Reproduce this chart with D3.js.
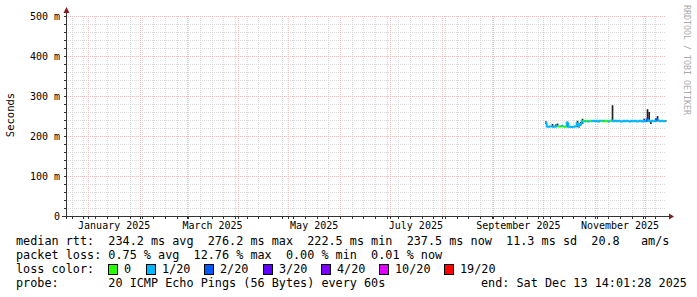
<!DOCTYPE html>
<html>
<head>
<meta charset="utf-8">
<script src="https://cdn.jsdelivr.net/npm/d3@7"></script>
<style>
  html, body { margin: 0; padding: 0; background: #ffffff; }
  text { font-family: "DejaVu Sans Mono", monospace; white-space: pre; }
</style>
</head>
<body>
<svg id="chart"></svg>
<script>
const width = 697;
const height = 297;

const layout = {left: 66, right: 666, top: 16, bottom: 216};

// Graph window (360 days ending at the probe's end time)
const endTime = new Date(Date.UTC(2025, 11, 13, 14, 1, 28));
const startTime = new Date(Date.UTC(2024, 11, 18, 14, 1, 28));

// Daily samples, median rtt in ms
const days = [
    "2025-10-02", "2025-10-03", "2025-10-04", "2025-10-05", "2025-10-06", "2025-10-07", "2025-10-08",
    "2025-10-09", "2025-10-10", "2025-10-11", "2025-10-12", "2025-10-13", "2025-10-14", "2025-10-15",
    "2025-10-16", "2025-10-17", "2025-10-18", "2025-10-19", "2025-10-20", "2025-10-21", "2025-10-22",
    "2025-10-23", "2025-10-24", "2025-10-25", "2025-10-26", "2025-10-27", "2025-10-28", "2025-10-29",
    "2025-10-30", "2025-10-31", "2025-11-01", "2025-11-02", "2025-11-03", "2025-11-04", "2025-11-05",
    "2025-11-06", "2025-11-07", "2025-11-08", "2025-11-09", "2025-11-10", "2025-11-11", "2025-11-12",
    "2025-11-13", "2025-11-14", "2025-11-15", "2025-11-16", "2025-11-17", "2025-11-18", "2025-11-19",
    "2025-11-20", "2025-11-21", "2025-11-22", "2025-11-23", "2025-11-24", "2025-11-25", "2025-11-26",
    "2025-11-27", "2025-11-28", "2025-11-29", "2025-11-30", "2025-12-01", "2025-12-02", "2025-12-03",
    "2025-12-04", "2025-12-05", "2025-12-06", "2025-12-07", "2025-12-08", "2025-12-09", "2025-12-10",
    "2025-12-11", "2025-12-12", "2025-12-13"];

const medianRtt = [
    234, 224, 223, 224, 224, 223, 224,
    225, 224, 224, 225, 224, 223, 233,
    223, 223, 222.5, 223, 224, 232, 225,
    230, 237, 238, 237, 238, 236, 238,
    237, 238, 237, 238, 236, 238, 237,
    238, 237, 238, 236, 238, 239, 237,
    238, 237, 238, 237, 236, 238, 237,
    238, 237, 236, 238, 237, 238, 236,
    237, 238, 236, 238, 237, 241, 239,
    236, 238, 237, 239, 241, 238, 237,
    238, 237, 237.5];

// index into lossColors
const lossLevel = [
    1, 1, 1, 1, 1, 1, 1,
    1, 0, 0, 1, 0, 0, 1,
    1, 1, 1, 1, 1, 1, 1,
    1, 1, 0, 1, 0, 1, 0,
    1, 1, 1, 1, 1, 1, 0,
    1, 0, 0, 1, 0, 1, 1,
    1, 1, 1, 1, 1, 1, 1,
    1, 1, 1, 1, 1, 1, 1,
    1, 1, 1, 1, 1, 2, 1,
    1, 1, 1, 1, 2, 1, 1,
    1, 1, 1];

// smoke (ping spread) low / high in ms
const smokeLo = [
    230, 223, 222, 223, 222, 222, 222,
    223, 223, 223, 224, 223, 222, 222,
    222, 222, 222, 222, 223, 222, 221,
    226, 230, 237, 236, 237, 235, 237,
    236, 237, 236, 237, 235, 237, 236,
    237, 236, 237, 235, 237, 236, 236,
    237, 236, 237, 236, 235, 237, 236,
    237, 236, 235, 237, 236, 237, 235,
    236, 237, 235, 236, 236, 236, 236,
    230, 237, 236, 236, 237, 237, 236,
    237, 236, 236];

const smokeHi = [
    237, 225, 224, 225, 230, 224, 229,
    231, 225, 225, 226, 225, 224, 236,
    224, 224, 224, 224, 225, 238, 227,
    235, 243, 239, 238, 239, 237, 239,
    238, 239, 238, 239, 237, 239, 238,
    239, 238, 239, 237, 239, 277, 238,
    239, 238, 239, 238, 237, 239, 238,
    239, 238, 237, 239, 238, 239, 237,
    238, 239, 237, 243, 238, 267, 260,
    238, 239, 238, 244, 250, 239, 238,
    239, 238, 239];

const lossColors = ["#26ff00", "#00b8ff", "#0059ff", "#5e00ff", "#7e00ff", "#dd00ff", "#ff0000"];
const lossNames = ["0", "1/20", "2/20", "3/20", "4/20", "10/20", "19/20"];

const yTicksMajor = [0, 100, 200, 300, 400, 500];
const yTickLabels = ["0", "100 m", "200 m", "300 m", "400 m", "500 m"];

const legendLines = [
    "median rtt:  234.2 ms avg  276.2 ms max  222.5 ms min  237.5 ms now  11.3 ms sd  20.8   am/s",
    "packet loss: 0.75 % avg  12.76 % max  0.00 % min  0.01 % now"];
const probeText = "probe:       20 ICMP Echo Pings (56 Bytes) every 60s";
const endText = "end: Sat Dec 13 14:01:28 2025";

const svg = d3.select("#chart")
    .attr("width", width)
    .attr("height", height);

svg.append("rect").attr("width", width).attr("height", height).attr("fill", "#ffffff");

const x = d3.scaleUtc().domain([startTime, endTime]).range([layout.left, layout.right]);
const y = d3.scaleLinear().domain([0, 500]).range([layout.bottom, layout.top]);

const parseDay = d3.utcParse("%Y-%m-%d");
const data = days.map((d, i) => ({
    t: parseDay(d), med: medianRtt[i], loss: lossLevel[i], lo: smokeLo[i], hi: smokeHi[i]
}));

// Grid
const grid = svg.append("g").attr("shape-rendering", "crispEdges");
const minorColor = "#d9d9d9";
const majorColor = "#f6baba";

// minor y every 20 ms
const yMinor = d3.range(0, 501, 20).filter(v => v % 100 !== 0);
grid.selectAll(".ymin").data(yMinor).join("line")
    .attr("x1", layout.left).attr("x2", layout.right)
    .attr("y1", d => Math.round(y(d)) + 0.5).attr("y2", d => Math.round(y(d)) + 0.5)
    .attr("stroke", minorColor).attr("stroke-dasharray", "1,1");

// minor x: weeks
const weeks = d3.utcSunday.range(startTime, endTime);
grid.selectAll(".xmin").data(weeks).join("line")
    .attr("x1", d => Math.round(x(d)) + 0.5).attr("x2", d => Math.round(x(d)) + 0.5)
    .attr("y1", layout.top).attr("y2", layout.bottom)
    .attr("stroke", minorColor).attr("stroke-dasharray", "1,1");

// major y
grid.selectAll(".ymaj").data(yTicksMajor.filter(v => v > 0)).join("line")
    .attr("x1", layout.left).attr("x2", layout.right)
    .attr("y1", d => Math.round(y(d)) + 0.5).attr("y2", d => Math.round(y(d)) + 0.5)
    .attr("stroke", majorColor).attr("stroke-dasharray", "1,1");

// major x: months
const months = d3.utcMonth.range(d3.utcMonth.ceil(startTime), endTime);
grid.selectAll(".xmaj").data(months).join("line")
    .attr("x1", d => Math.round(x(d)) + 0.5).attr("x2", d => Math.round(x(d)) + 0.5)
    .attr("y1", layout.top).attr("y2", layout.bottom)
    .attr("stroke", majorColor).attr("stroke-dasharray", "1,1");

// Smoke
const plot = svg.append("g");
const dayWidth = x(new Date(86400000)) - x(new Date(0));
plot.selectAll(".smoke").data(data).join("rect")
    .attr("x", d => x(d.t))
    .attr("width", dayWidth)
    .attr("y", d => y(d.hi))
    .attr("height", d => y(d.lo) - y(d.hi))
    .attr("fill", "#222222");

// Median line, coloured by loss
plot.selectAll(".med").data(data).join("path")
    .attr("d", (d, i) => {
        let x0 = x(d.t);
        let x1 = Math.min(x0 + dayWidth, layout.right);
        let yPrev = i > 0 ? y(data[i - 1].med) : y(d.med);
        return "M" + x0 + "," + yPrev + "V" + y(d.med) + "H" + x1;
    })
    .attr("fill", "none")
    .attr("stroke", d => lossColors[d.loss])
    .attr("stroke-width", 2);

// Axes
const axisColor = "#333333";
const arrowColor = "#7f1f1f";
const axes = svg.append("g").attr("shape-rendering", "crispEdges");

axes.append("line")
    .attr("x1", layout.left - 4).attr("x2", layout.right + 4)
    .attr("y1", layout.bottom + 0.5).attr("y2", layout.bottom + 0.5)
    .attr("stroke", axisColor);
axes.append("line")
    .attr("x1", layout.left + 0.5).attr("x2", layout.left + 0.5)
    .attr("y1", layout.bottom + 3).attr("y2", layout.top - 4)
    .attr("stroke", axisColor);

// ticks
axes.selectAll(".ytick").data(yMinor.concat(yTicksMajor)).join("line")
    .attr("x1", layout.left - 2).attr("x2", layout.left)
    .attr("y1", d => Math.round(y(d)) + 0.5).attr("y2", d => Math.round(y(d)) + 0.5)
    .attr("stroke", axisColor);
axes.selectAll(".xtick").data(weeks.concat(months)).join("line")
    .attr("x1", d => Math.round(x(d)) + 0.5).attr("x2", d => Math.round(x(d)) + 0.5)
    .attr("y1", layout.bottom + 1).attr("y2", layout.bottom + 3)
    .attr("stroke", axisColor);

// arrows
svg.append("path")
    .attr("d", `M${layout.left - 2.5},${layout.top - 3}L${layout.left + 0.5},${layout.top - 9}L${layout.left + 3.5},${layout.top - 3}Z`)
    .attr("fill", arrowColor);
svg.append("path")
    .attr("d", `M${layout.right + 3},${layout.bottom - 2.5}L${layout.right + 8},${layout.bottom + 0.5}L${layout.right + 3},${layout.bottom + 3.5}Z`)
    .attr("fill", arrowColor);

// Y labels
svg.selectAll(".ylab").data(yTicksMajor).join("text")
    .attr("x", 60)
    .attr("y", d => y(d) + 3.5)
    .attr("text-anchor", "end")
    .attr("font-size", "10px")
    .attr("fill", "#000")
    .text((d, i) => yTickLabels[i]);

// X labels, centred on the month, every other month
const labelMonths = d3.utcMonth.every(2).range(d3.utcMonth.ceil(startTime), endTime);
svg.selectAll(".xlab").data(labelMonths).join("text")
    .attr("x", d => (x(d) + x(d3.utcMonth.offset(d, 1))) / 2)
    .attr("y", 228.5)
    .attr("text-anchor", "middle")
    .attr("font-size", "10px")
    .attr("fill", "#000")
    .text(d => d3.utcFormat("%B %Y")(d));

// Vertical title
svg.append("text")
    .attr("transform", "translate(14,115) rotate(-90)")
    .attr("text-anchor", "middle")
    .attr("font-size", "10.5px")
    .attr("fill", "#000")
    .text("Seconds");

// Watermark
svg.append("text")
    .attr("transform", "translate(684,5) rotate(90)")
    .attr("font-size", "8.3px")
    .attr("fill", "#aaaaaa")
    .text("RRDTOOL / TOBI OETIKER");

// Legend
const legendFont = "11.8px";
const rowY = [245, 259, 273, 287];
svg.selectAll(".leg").data(legendLines).join("text")
    .attr("x", 16)
    .attr("y", (d, i) => rowY[i])
    .attr("font-size", legendFont)
    .attr("fill", "#000")
    .text(d => d);

svg.append("text")
    .attr("x", 16).attr("y", rowY[2])
    .attr("font-size", legendFont).attr("fill", "#000")
    .text("loss color:");

const boxX = [108, 146, 204, 263, 321, 379, 444];
const boxes = svg.append("g").selectAll("g").data(lossNames).join("g")
    .attr("transform", (d, i) => `translate(${boxX[i]},${rowY[2] - 9})`);
boxes.append("rect")
    .attr("x", 0.5).attr("y", 0.5)
    .attr("width", 9).attr("height", 10)
    .attr("fill", (d, i) => lossColors[i])
    .attr("stroke", "#000")
    .attr("shape-rendering", "crispEdges");
boxes.append("text")
    .attr("x", 16).attr("y", 9)
    .attr("font-size", legendFont).attr("fill", "#000")
    .text(d => d);

svg.append("text")
    .attr("x", 16).attr("y", rowY[3])
    .attr("font-size", legendFont).attr("fill", "#000")
    .text(probeText);
svg.append("text")
    .attr("x", 481).attr("y", rowY[3])
    .attr("font-size", legendFont).attr("fill", "#000")
    .text(endText);
</script>
</body>
</html>
